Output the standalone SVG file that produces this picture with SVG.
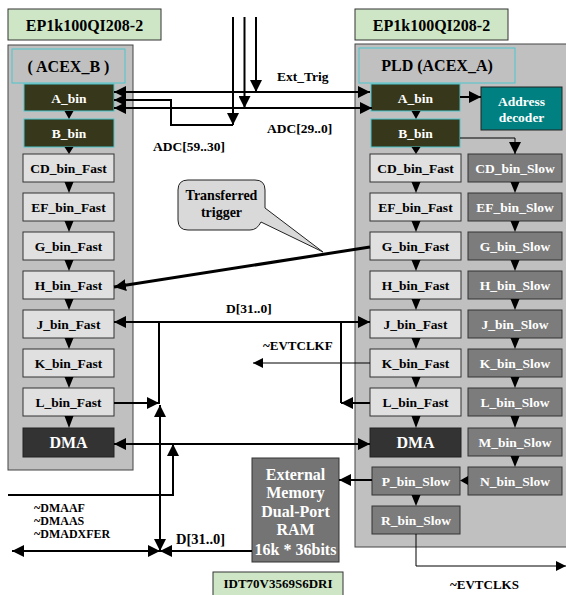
<svg xmlns="http://www.w3.org/2000/svg" width="566" height="595" viewBox="0 0 566 595">
<style>
text{font-family:"Liberation Serif","Times New Roman",serif;font-weight:bold;fill:#000}
.chip{fill:#cfe6c6;stroke:#333;stroke-width:1}
.body{fill:#c0c0c0;stroke:#444;stroke-width:1}
.lbl{fill:#c0c0c0;stroke:#4cc6cc;stroke-width:1}
.ab{fill:#37371b;stroke:#4cc6cc;stroke-width:1}
.fast{fill:#e0e0e0;stroke:#333;stroke-width:1}
.slow{fill:#7c7c7c;stroke:#333;stroke-width:1}
.dma{fill:#333;stroke:#222;stroke-width:1}
.dec{fill:#008080;stroke:#222;stroke-width:1}
.mem{fill:#747474;stroke:#333;stroke-width:1}
.w{fill:#fff}
.bt{font-size:13.5px;text-anchor:middle}
.ct{font-size:13.5px}
.tri{fill:#000}
.ln{fill:none;stroke:#000;stroke-width:2}
.thin{fill:none;stroke:#000;stroke-width:1}
</style>
<defs>
<marker id="ah" markerUnits="userSpaceOnUse" markerWidth="12" markerHeight="12" refX="12" refY="6" orient="auto-start-reverse" viewBox="0 0 12 12">
<path d="M0,0 L12,6 L0,12 z" fill="#000"/>
</marker>
<marker id="ahs" markerUnits="userSpaceOnUse" markerWidth="10" markerHeight="10" refX="10" refY="5" orient="auto-start-reverse" viewBox="0 0 10 10">
<path d="M0,0 L10,5 L0,10 z" fill="#000"/>
</marker>
</defs>

<!-- Left chip -->
<g id="left-chip-label"><rect class="chip" x="8" y="9" width="153" height="31"/><text x="84.5" y="30.5" font-size="16" text-anchor="middle">EP1k100QI208-2</text></g>
<g id="left-chip"><rect class="body" x="8" y="45" width="125" height="425"/></g>
<g id="acex-b"><rect class="lbl" x="12" y="49" width="113" height="34"/><text x="68.5" y="71.5" font-size="16" text-anchor="middle">( ACEX_B )</text></g>
<g id="l-a-bin"><rect class="ab" x="24" y="84" width="90" height="27"/><text class="bt w" x="69" y="102.5">A_bin</text></g>
<g id="l-b-bin"><rect class="ab" x="24" y="119" width="90" height="28"/><text class="bt w" x="69" y="138">B_bin</text></g>
<g id="l-cd"><rect class="fast" x="23" y="154" width="91" height="28"/><text class="bt" x="68.5" y="173">CD_bin_Fast</text></g>
<g id="l-ef"><rect class="fast" x="23" y="193" width="91" height="28"/><text class="bt" x="68.5" y="212">EF_bin_Fast</text></g>
<g id="l-g"><rect class="fast" x="23" y="232" width="91" height="28"/><text class="bt" x="68.5" y="251">G_bin_Fast</text></g>
<g id="l-h"><rect class="fast" x="23" y="271" width="91" height="28"/><text class="bt" x="68.5" y="290">H_bin_Fast</text></g>
<g id="l-j"><rect class="fast" x="23" y="310" width="91" height="28"/><text class="bt" x="68.5" y="329">J_bin_Fast</text></g>
<g id="l-k"><rect class="fast" x="23" y="349" width="91" height="28"/><text class="bt" x="68.5" y="368">K_bin_Fast</text></g>
<g id="l-l"><rect class="fast" x="23" y="388" width="91" height="28"/><text class="bt" x="68.5" y="407">L_bin_Fast</text></g>
<g id="l-dma"><rect class="dma" x="23" y="428" width="91" height="29"/><text x="68.5" y="448" font-size="16" text-anchor="middle" class="w">DMA</text></g>

<!-- Right chip -->
<g id="right-chip-label"><rect class="chip" x="355" y="9" width="153" height="31"/><text x="431.5" y="30.5" font-size="16" text-anchor="middle">EP1k100QI208-2</text></g>
<g id="right-chip"><rect class="body" x="355" y="44" width="220" height="503"/></g>
<g id="acex-a"><rect class="lbl" x="359" y="48" width="156" height="35"/><text x="437" y="71" font-size="16" text-anchor="middle">PLD (ACEX_A)</text></g>
<g id="r-a-bin"><rect class="ab" x="371" y="84" width="89" height="27"/><text class="bt w" x="415.5" y="102.5">A_bin</text></g>
<g id="decoder"><rect class="dec" x="481" y="87" width="81" height="43"/><text class="bt w" x="521.5" y="106">Address</text><text class="bt w" x="521.5" y="122">decoder</text></g>
<g id="r-b-bin"><rect class="ab" x="371" y="119" width="89" height="28"/><text class="bt w" x="415.5" y="138">B_bin</text></g>
<g id="r-cd"><rect class="fast" x="370" y="154" width="91" height="28"/><text class="bt" x="415.5" y="173">CD_bin_Fast</text></g>
<g id="r-ef"><rect class="fast" x="370" y="193" width="91" height="28"/><text class="bt" x="415.5" y="212">EF_bin_Fast</text></g>
<g id="r-g"><rect class="fast" x="370" y="232" width="91" height="28"/><text class="bt" x="415.5" y="251">G_bin_Fast</text></g>
<g id="r-h"><rect class="fast" x="370" y="271" width="91" height="28"/><text class="bt" x="415.5" y="290">H_bin_Fast</text></g>
<g id="r-j"><rect class="fast" x="370" y="310" width="91" height="28"/><text class="bt" x="415.5" y="329">J_bin_Fast</text></g>
<g id="r-k"><rect class="fast" x="370" y="349" width="91" height="28"/><text class="bt" x="415.5" y="368">K_bin_Fast</text></g>
<g id="r-l"><rect class="fast" x="370" y="388" width="91" height="28"/><text class="bt" x="415.5" y="407">L_bin_Fast</text></g>
<g id="r-dma"><rect class="dma" x="370" y="428" width="91" height="29"/><text x="415.5" y="448" font-size="16" text-anchor="middle" class="w">DMA</text></g>
<g id="s-cd"><rect class="slow" x="468" y="154" width="94" height="28"/><text class="bt w" x="515" y="173">CD_bin_Slow</text></g>
<g id="s-ef"><rect class="slow" x="468" y="193" width="94" height="28"/><text class="bt w" x="515" y="212">EF_bin_Slow</text></g>
<g id="s-g"><rect class="slow" x="468" y="232" width="94" height="28"/><text class="bt w" x="515" y="251">G_bin_Slow</text></g>
<g id="s-h"><rect class="slow" x="468" y="271" width="94" height="28"/><text class="bt w" x="515" y="290">H_bin_Slow</text></g>
<g id="s-j"><rect class="slow" x="468" y="310" width="94" height="28"/><text class="bt w" x="515" y="329">J_bin_Slow</text></g>
<g id="s-k"><rect class="slow" x="468" y="349" width="94" height="28"/><text class="bt w" x="515" y="368">K_bin_Slow</text></g>
<g id="s-l"><rect class="slow" x="468" y="388" width="94" height="28"/><text class="bt w" x="515" y="407">L_bin_Slow</text></g>
<g id="s-m"><rect class="slow" x="468" y="428" width="94" height="28"/><text class="bt w" x="515" y="447">M_bin_Slow</text></g>
<g id="s-n"><rect class="slow" x="468" y="467" width="94" height="28"/><text class="bt w" x="515" y="486">N_bin_Slow</text></g>
<g id="s-p"><rect class="slow" x="372" y="467" width="88" height="28"/><text class="bt w" x="416" y="486">P_bin_Slow</text></g>
<g id="s-r"><rect class="slow" x="372" y="506" width="88" height="28"/><text class="bt w" x="416" y="525">R_bin_Slow</text></g>

<!-- Memory -->
<g id="memory"><rect class="mem" x="252" y="458" width="87" height="104"/>
<g font-size="16" text-anchor="middle"><text class="w" x="295.5" y="480">External</text><text class="w" x="295.5" y="498">Memory</text><text class="w" x="295.5" y="517">Dual-Port</text><text class="w" x="295.5" y="535">RAM</text><text class="w" x="295.5" y="555">16k * 36bits</text></g></g>
<g id="idt-label"><rect class="chip" x="213" y="572" width="130" height="26"/><text x="278" y="588" font-size="13" text-anchor="middle">IDT70V3569S6DRI</text></g>

<!-- Callout -->
<g id="callout"><path d="M188,180 H255 Q265,180 265,190 V208 L323,252 L261,222 Q257,230 250,230 H188 Q178,230 178,220 V190 Q178,180 188,180 Z" fill="#d9d9d9" stroke="#222" stroke-width="1"/>
<text x="221.5" y="200" font-size="14" text-anchor="middle">Transferred</text><text x="221.5" y="217" font-size="14" text-anchor="middle">trigger</text></g>

<!-- Connectors -->
<g id="connectors">
<!-- column arrowheads -->
<g class="tri">
<polygon points="64.5,111 73.5,111 69,119"/>
<polygon points="64.5,147 73.5,147 69,154"/>
<polygon points="64.5,182 73.5,182 69,193"/>
<polygon points="64.5,221 73.5,221 69,232"/>
<polygon points="64.5,260 73.5,260 69,271"/>
<polygon points="64.5,299 73.5,299 69,310"/>
<polygon points="64.5,338 73.5,338 69,349"/>
<polygon points="64.5,377 73.5,377 69,388"/>
<polygon points="64.5,416 73.5,416 69,428"/>
<polygon points="411.5,111 420.5,111 416,119"/>
<polygon points="411.5,147 420.5,147 416,154"/>
<polygon points="411.5,182 420.5,182 416,193"/>
<polygon points="411.5,221 420.5,221 416,232"/>
<polygon points="411.5,260 420.5,260 416,271"/>
<polygon points="411.5,299 420.5,299 416,310"/>
<polygon points="411.5,338 420.5,338 416,349"/>
<polygon points="411.5,377 420.5,377 416,388"/>
<polygon points="411.5,416 420.5,416 416,428"/>
<polygon points="411.5,495 420.5,495 416,506"/>
<polygon points="510.5,182 519.5,182 515,193"/>
<polygon points="510.5,221 519.5,221 515,232"/>
<polygon points="510.5,260 519.5,260 515,271"/>
<polygon points="510.5,299 519.5,299 515,310"/>
<polygon points="510.5,338 519.5,338 515,349"/>
<polygon points="510.5,377 519.5,377 515,388"/>
<polygon points="510.5,416 519.5,416 515,428"/>
<polygon points="510.5,456 519.5,456 515,467"/>
<polygon points="468,476 468,485 460,480.5"/>
</g>
<!-- top inputs -->
<line class="ln" x1="233" y1="17" x2="233" y2="125" marker-end="url(#ah)"/>
<line class="ln" x1="244.5" y1="17" x2="244.5" y2="108" marker-end="url(#ah)"/>
<line class="ln" x1="256" y1="17" x2="256" y2="92" marker-end="url(#ah)"/>
<line class="ln" x1="114" y1="92" x2="370" y2="92" marker-start="url(#ah)" marker-end="url(#ah)"/>
<line class="ln" x1="114" y1="108" x2="372" y2="108" marker-start="url(#ah)" marker-end="url(#ah)"/>
<polyline class="ln" points="114,100 171,100 171,125 233,125" marker-start="url(#ah)"/>
<line class="ln" x1="460" y1="97" x2="481" y2="97" marker-end="url(#ah)"/>
<polyline class="thin" points="460,138 515,138 515,154" marker-end="url(#ah)"/>
<!-- trigger -->
<line x1="370" y1="247" x2="114" y2="287" stroke="#000" stroke-width="3" marker-end="url(#ah)"/>
<!-- D bus -->
<line class="ln" x1="114" y1="322" x2="370" y2="322" marker-start="url(#ah)" marker-end="url(#ah)"/>
<line class="ln" x1="159" y1="322" x2="159" y2="404"/>
<line class="ln" x1="114" y1="403" x2="159" y2="403" marker-end="url(#ah)"/>
<line class="ln" x1="341" y1="322" x2="341" y2="403"/>
<line class="ln" x1="370" y1="403" x2="341" y2="403" marker-end="url(#ah)"/>
<line class="thin" x1="370" y1="363" x2="253" y2="363" marker-end="url(#ahs)"/>
<!-- DMA -->
<line class="ln" x1="114" y1="444" x2="370" y2="444" marker-start="url(#ah)" marker-end="url(#ah)"/>
<polyline class="ln" points="8,495 173,495 173,444" marker-end="url(#ah)"/>
<line class="ln" x1="160" y1="405" x2="160" y2="551" marker-start="url(#ah)" marker-end="url(#ah)"/>
<line class="ln" x1="12" y1="551" x2="160" y2="551" marker-start="url(#ah)" marker-end="url(#ah)"/>
<line class="ln" x1="252" y1="551" x2="160" y2="551" marker-end="url(#ah)"/>
<line class="ln" x1="372" y1="480" x2="339" y2="480" marker-end="url(#ah)"/>
<polyline class="thin" points="416,534 416,566 566,566" marker-end="url(#ahs)"/>
</g>

<!-- Labels -->
<g id="labels">
<text class="ct" x="277" y="81">Ext_Trig</text>
<text class="ct" x="267" y="133">ADC[29..0]</text>
<text class="ct" x="153" y="151">ADC[59..30]</text>
<text class="ct" x="226" y="313">D[31..0]</text>
<text x="263" y="350" font-size="13">~EVTCLKF</text>
<text x="34" y="512" font-size="12">~DMAAF</text>
<text x="34" y="525" font-size="12">~DMAAS</text>
<text x="34" y="538" font-size="12">~DMADXFER</text>
<text x="176" y="544" font-size="14.5">D[31..0]</text>
<text x="450" y="589" font-size="13">~EVTCLKS</text>
</g>
</svg>
